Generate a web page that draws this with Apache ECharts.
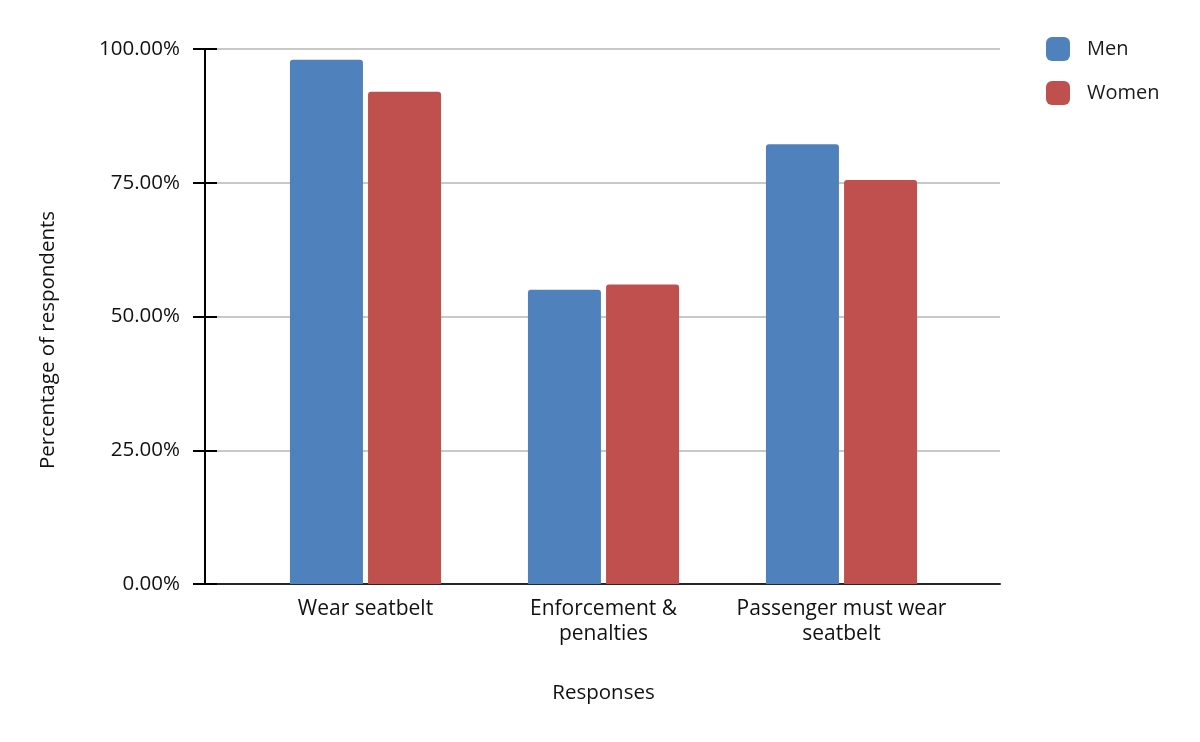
<!DOCTYPE html>
<html>
<head>
<meta charset="utf-8">
<script src="https://cdn.jsdelivr.net/npm/echarts@6/dist/echarts.min.js"></script>
<style>html,body{margin:0;padding:0;background:#fff;}#c{width:1200px;height:742px;}</style>
</head>
<body>
<div id="c"></div>
<script>
const categories = ['Wear seatbelt', 'Enforcement &\npenalties', 'Passenger must wear\nseatbelt'];
const menValues = [98, 55, 82.2];
const womenValues = [92, 56, 75.5];
const yTicks = [0, 25, 50, 75, 100];

const chart = echarts.init(document.getElementById('c'));
const font = 'Open Sans';
chart.setOption({
  animation: false,
  backgroundColor: '#ffffff',
  textStyle: { fontFamily: font },
  legend: {
    orient: 'vertical',
    left: 1046, top: 37, padding: 0,
    itemWidth: 24, itemHeight: 24, itemGap: 20,
    icon: 'roundRect',
    textStyle: { fontSize: 20, color: '#1a1a1a', fontFamily: font, padding: [0, 0, 0, 12] },
    data: ['Men', 'Women']
  },
  grid: [
    { left: 205, right: 200, top: 49, bottom: 158 },
    { left: 246.5, right: 239.5, top: 49, bottom: 158 }
  ],
  xAxis: [
    { type: 'category', gridIndex: 0, data: ['a'], axisLine: { show: true, lineStyle: { color: '#262626', width: 2 } }, axisTick: { show: false }, axisLabel: { show: false } },
    { type: 'category', gridIndex: 1, data: categories,
      axisLine: { show: false }, axisTick: { show: false },
      axisLabel: { fontSize: 21, color: '#111', fontFamily: font, margin: 13, lineHeight: 25, interval: 0 },
      name: 'Responses', nameLocation: 'middle', nameGap: 99,
      nameTextStyle: { fontSize: 20.5, color: '#111', fontFamily: font }
    }
  ],
  yAxis: [
    { type: 'value', gridIndex: 0, min: 0, max: 100, interval: 25,
      axisLine: { show: true, lineStyle: { color: '#000', width: 2 } },
      axisTick: { show: true, length: 12, lineStyle: { color: '#000', width: 2 } },
      axisLabel: { fontSize: 20.5, color: '#111', fontFamily: font, margin: 25,
        formatter: v => v.toFixed(2) + '%' },
      splitLine: { show: true, lineStyle: { color: '#c8c8c8', width: 2 } }
    },
    { type: 'value', gridIndex: 0, min: 0, max: 100, interval: 25, position: 'left',
      axisLine: { show: false },
      axisTick: { show: true, inside: true, length: 12, lineStyle: { color: '#000', width: 2 } },
      axisLabel: { show: false }, splitLine: { show: false }
    },
    { type: 'value', gridIndex: 1, min: 0, max: 100, interval: 25, show: false, splitLine: { show: false } }
  ],
  graphic: [
    { type: 'text', x: 48, y: 340, rotation: Math.PI / 2,
      style: { text: 'Percentage of respondents', fontSize: 20.5, fill: '#111', fontFamily: font, textAlign: 'center', textVerticalAlign: 'middle', x: 0, y: 0 }
    }
  ],
  series: [
    { name: 'Men', type: 'bar', xAxisIndex: 1, yAxisIndex: 2, data: menValues,
      barWidth: 73, barGap: '7%', itemStyle: { color: '#4F81BD', borderRadius: [3, 3, 0, 0] } },
    { name: 'Women', type: 'bar', xAxisIndex: 1, yAxisIndex: 2, data: womenValues,
      barWidth: 73, barGap: '7%', itemStyle: { color: '#C0504D', borderRadius: [3, 3, 0, 0] } }
  ]
});
</script>
</body>
</html>
